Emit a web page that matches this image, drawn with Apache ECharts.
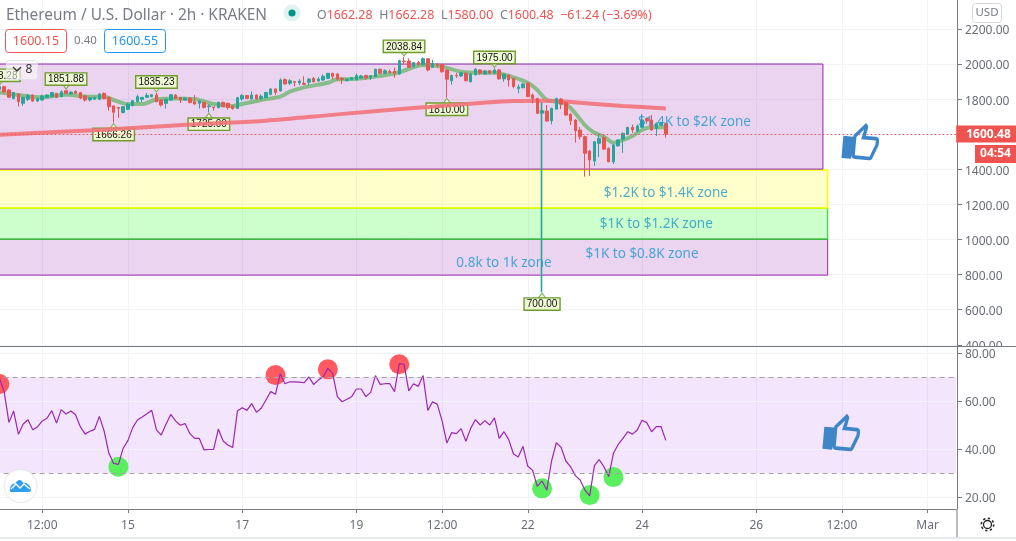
<!DOCTYPE html>
<html><head><meta charset="utf-8">
<style>html,body{margin:0;padding:0;background:#fff}#c{width:1016px;height:541px}</style>
<script src="https://cdn.jsdelivr.net/npm/echarts@6/dist/echarts.min.js"></script>
</head><body><div id="c"></div>
<script>
// Bars start at index 1 (index 0 is just off the left edge); 2-hour bars.
const barOpen=[1855,1871,1852,1804,1829,1776,1799,1823,1789,1795,1810,1814,1833,1814,1848,1829,1844,1837,1818,1795,1799,1799,1833,1810,1761,1752,
1723,1742,1763,1785,1799,1810,1814,1823,1795,1776,1795,1823,1808,1795,1806,1785,1776,1782,1757,1755,1751,1782,1776,1761,1747,
1801,1820,1801,1823,1804,1808,1827,1858,1846,1911,1890,1899,1892,1890,1896,1918,1903,1909,1918,1947,1943,1918,1905,1911,1911,
1920,1935,1922,1928,1970,1947,1958,1958,1943,2017,2017,1985,2008,1996,2030,1981,2000,1996,1966,1905,1935,1932,1947,1899,1939,1966,
1943,1962,1949,1966,1915,1937,1918,1861,1865,1890,1823,1804,1723,1732,1677,1743,1800,1782,1713,1681,1624,1586,1504,1447,1548,1580,1519,1443,1534,1572,1599,1639,1618,1639,1690,1681,1633,1652,1662.28];
const barClose=[1871,1840,1810,1837,1785,1810,1821,1789,1804,1818,1823,1837,1810,1842,1833,1840,1833,1806,1795,1808,1810,1829,1802,1757,1725,1748,
1757,1770,1791,1814,1810,1821,1825,1785,1766,1800,1825,1804,1795,1806,1780,1772,1789,1753,1761,1751,1782,1757,1753,1746,1808,
1820,1804,1823,1801,1816,1838,1858,1838,1909,1886,1905,1895,1903,1884,1914,1899,1914,1930,1947,1930,1914,1911,1914,1922,1934,
1932,1920,1933,1970,1947,1962,1951,1947,2019,2013,1981,2008,1996,2030,1966,2004,1992,1956,1913,1935,1932,1950,1905,1943,1970,1947,
1960,1947,1966,1915,1941,1909,1871,1869,1886,1814,1804,1719,1732,1675,1747,1804,1772,1709,1677,1620,1586,1491,1453,1557,1576,1515,1443,1538,1567,1605,1639,1624,1647,1681,1675,1624,1662,1662,1600.48];
const barLow=[1845,1837,1806,1798,1757,1761,1789,1784,1785,1791,1806,1810,1806,1810,1831,1825,1829,1800,1785,1787,1795,1793,1799,1734,1666.26,1692,
1719,1737,1759,1783,1782,1806,1810,1783,1757,1746,1791,1802,1778,1791,1776,1768,1746,1745,1725,1734,1748,1755,1740,1740,1745,
1790,1799,1797,1797,1795,1804,1821,1823,1843,1884,1880,1872,1880,1880,1878,1895,1899,1903,1914,1914,1905,1886,1901,1907,1905,
1915,1910,1909,1925,1943,1941,1945,1922,1941,1995,1977,1981,1992,1992,1958,1979,1979,1950,1810,1882,1920,1926,1901,1895,1935,1937,
1939,1943,1941,1912,1899,1871,1861,1833,1861,1812,1776,1715,700,1671,1656,1740,1743,1705,1652,1552,1570,1358,1362,1420,1470,1510,1440,1430,1528,1494,1595,1608,1610,1635,1660,1618,1590,1648,1580];
const barHigh=[1873.28,1875,1856,1841,1833,1814,1829,1827,1808,1825,1829,1841,1835,1850,1851.88,1844,1850,1841,1821,1812,1814,1833,1837,1814,1763,1755,
1761,1778,1795,1825,1812,1834,1829,1835.23,1799,1802,1829,1829,1810,1810,1810,1823,1791,1784,1770,1755,1785,1784,1780,1763,1812,
1830,1824,1844,1827,1827,1840,1860,1860,1918,1918,1914,1905,1914,1930,1920,1926,1926,1941,1949,1949,1949,1926,1916,1926,1945,
1938,1938,1937,1973,1973,1970,1968,1979,2024,2038.84,2032,2011,2017,2038,2034,2024,2004,2000,1968,1939,1949,1954,1952,1947,1977,1970,
1966,1966,1975,1970,1945,1941,1922,1884,1890,1894,1833,1808,1780,1766,1751,1808,1806,1785,1722,1685,1640,1592,1510,1560,1600,1600,1525,1545,1570,1609,1642,1655,1655,1714,1695,1710,1666,1672,1662.28];
const rsiValues=[69.5,63.9,51.1,55.8,46.1,50.4,52.2,48.0,49.2,51.7,52.8,56.0,50.8,56.4,54.6,55.8,54.3,49.3,46.2,47.4,48.2,53.6,47.5,38.2,34.0,33.6,40.3,43.5,48.9,52.1,53.3,54.7,56.1,48.0,45.8,50.3,54.4,51.7,49.9,50.6,46.5,44.4,44.4,39.6,39.8,39.8,48.3,43.3,41.7,40.6,55.8,57.2,56.1,58.9,55.3,57.0,60.4,63.9,62.8,71.4,67.2,68.0,68.0,67.9,67.6,70.1,66.9,68.7,70.0,73.6,71.5,61.8,59.7,60.7,61.8,65.0,65.0,61.8,63.6,70.6,66.9,67.2,67.2,63.9,75.6,75.3,64.2,67.2,66.1,70.6,56.1,59.7,58.6,51.7,42.5,46.8,46.4,48.5,43.2,48.6,52.2,50.0,51.8,50.0,53.0,44.4,47.2,43.9,37.9,36.7,41.1,32.8,31.2,24.4,26.7,22.9,35.0,42.6,40.7,35.0,32.6,28.9,27.1,22.9,20.5,33.1,35.6,32.6,28.5,38.2,41.9,44.4,47.2,46.2,47.9,52.0,51.0,47.2,49.3,49.3,43.6];
const fastIdx=[1,5,10,15,20,23,25,28,31,34,38,42,46,50,52,56,60,62,65,70,72,75,80,85,90,94,98,102,105,109,112,114,116,118,120,122,124,126,128,130,132,134,136,138,141];
const fastVal=[1838,1823,1810,1825,1814,1814,1795,1772,1772,1799,1804,1800,1772,1761,1772,1795,1814,1842,1867,1893,1913,1914,1928,1953,1994,1985,1956,1950,1950,1924,1893,1852,1795,1785,1772,1719,1652,1608,1586,1551,1567,1590,1624,1639,1639];
const slowIdx=[1,22,43,57,72,90,109,116,123,132,141];
const slowVal=[1597,1624,1658,1677,1713,1753,1789,1791,1779,1761,1747];
const highTagIdx=[1,15,34,86,105], highTagVal=[1873.28,1851.88,1835.23,2038.84,1975.00];
const lowTagIdx=[25,45,95,115], lowTagVal=[1666.26,1725.00,1810.00,700.00];
const overboughtIdx=[1,59,70,85], overboughtVal=[67.1,70.8,73.2,75.3];
const oversoldIdx=[26,115,125,130], oversoldVal=[32.6,23.6,20.8,28.3];
const zoneNames=['$1.4K to $2K zone','$1.2K to $1.4K zone','$1K to $1.2K zone','$1K to $0.8K zone','0.8k to 1k zone'];
const zoneIdx=[147,141,139,136,107], zonePrice=[1669,1264,1088,917,865];
const tickIdx=[10,28,52,76,94,112,136,160,178,196];
const tickNames=['12:00','15','17','19','12:00','22','24','26','12:00','Mar'];
const lastPrice=1600.48;

const BAR_COUNT=203;
const timeCats=Array.from({length:BAR_COUNT},(_,i)=>{const k=tickIdx.indexOf(i);return k>=0?tickNames[k]:'';});
const isTick=(i)=>tickIdx.indexOf(i)>=0;
const candles=barOpen.map((o,k)=>{const v=[k+1,o,barClose[k],barLow[k],barHigh[k]];return barLow[k]<1000?{value:v,itemStyle:{borderWidth:1.6}}:v;});
const rsiData=rsiValues.map((v,k)=>[k+1,v]);
const zip=(a,b)=>a.map((x,k)=>[x,b[k]]);

const FONT='"Noto Sans",sans-serif';
const GRID='#f0f3fa', AXIS='#787b86', RED='#ef5350', TEAL='#26a69a', BLUE='#2196f3';
const L=-5.36, W=961.56;
const thumb='path://M9 21h9c.83 0 1.54-.5 1.84-1.22l3.02-7.05c.09-.23.14-.47.14-.73v-2c0-1.1-.9-2-2-2h-6.31l.95-4.57.03-.32c0-.41-.17-.79-.44-1.06L14.17 1 7.58 7.59C7.22 7.95 7 8.45 7 9v10c0 1.1.9 2 2 2zM9 9l4.34-4.34L12 10h9v2l-3 7H9V9zM1 9h6v12H1z';
const cloud='path://M10 492 C9 486 13 484 15 485 C17 481 21 480 23 484 C26 483 31 486 31 490 C31 491 30 492 29 492 Z';

function catAxis(idx,extra){return Object.assign({type:'category',gridIndex:idx,data:timeCats,boundaryGap:false,axisLine:{show:false,onZero:false},axisTick:{show:false},axisLabel:{show:false},splitLine:{show:false}},extra||{});}
const tagLabel={show:true,color:'#111',fontSize:10,fontFamily:'"Liberation Sans",sans-serif',backgroundColor:'#eef8d2',borderColor:'#6f9b2f',borderWidth:1.4,padding:[1,2,0,2],lineHeight:10,formatter:p=>p.value[1].toFixed(2)};

const option={
 animation:false,backgroundColor:'#fff',
 textStyle:{fontFamily:FONT},
 grid:[
  {left:L,width:W,top:-6.2,height:351,outerBoundsMode:'none'},
  {left:L,width:W,top:353,height:144,outerBoundsMode:'none'},
  {left:L,width:W,top:347,height:162,outerBoundsMode:'none'}
 ],
 xAxis:[
  catAxis(0,{splitLine:{show:true,interval:isTick,lineStyle:{color:GRID,width:1}}}),
  catAxis(1),
  catAxis(2,{
    axisLine:{show:true,onZero:false,lineStyle:{color:AXIS,width:1}},
    axisTick:{show:true,interval:isTick,length:4,lineStyle:{color:AXIS}},
    axisLabel:{show:true,interval:isTick,color:'#6a6d78',fontSize:12,fontFamily:FONT,margin:11},
    splitLine:{show:true,interval:isTick,lineStyle:{color:GRID,width:1}}
  })
 ],
 yAxis:[
  {type:'value',gridIndex:0,position:'right',offset:0.8,min:400,max:2400,interval:200,scale:false,z:0,
   axisLine:{show:true,lineStyle:{color:AXIS,width:1}},axisTick:{show:true,length:5,lineStyle:{color:AXIS}},
   axisLabel:{color:'#6a6d78',fontSize:12,fontFamily:FONT,margin:8,verticalAlign:'top',lineHeight:4,formatter:v=>v>=2400?'':v.toFixed(2)},
   splitLine:{show:true,lineStyle:{color:GRID,width:1}}},
  {type:'value',gridIndex:1,position:'right',offset:0.8,min:20,max:80,interval:20,z:2,
   axisLine:{show:false},axisTick:{show:true,length:5,lineStyle:{color:AXIS}},
   axisLabel:{color:'#6a6d78',fontSize:12,fontFamily:FONT,margin:8,verticalAlign:'top',lineHeight:4,formatter:v=>v.toFixed(2)},
   splitLine:{show:true,lineStyle:{color:GRID,width:1}}},
  {type:'value',gridIndex:2,position:'right',offset:0.8,min:0,max:1,
   axisLine:{show:true,lineStyle:{color:AXIS,width:1}},axisTick:{show:false},axisLabel:{show:false},splitLine:{show:false}}
 ],
 series:[
  {type:'candlestick',name:'ETHUSD',xAxisIndex:0,yAxisIndex:0,z:4,barWidth:3,clip:true,data:candles,
   encode:{x:0,y:[1,2,3,4]},
   itemStyle:{color:TEAL,color0:RED,borderColor:TEAL,borderColor0:RED,borderWidth:1},
   markArea:{silent:true,z:1,data:[
    [{xAxis:0,yAxis:1002,itemStyle:{color:'rgba(156,39,176,.2)',borderColor:'#9c27b0',borderWidth:1}},{xAxis:175,yAxis:797}],
    [{xAxis:0,yAxis:1179,itemStyle:{color:'rgba(0,255,0,.2)',borderColor:'#00e600',borderWidth:1}},{xAxis:175,yAxis:1002}],
    [{xAxis:0,yAxis:1396,itemStyle:{color:'rgba(255,255,0,.2)',borderColor:'#ffff00',borderWidth:1.5}},{xAxis:175,yAxis:1179}],
    [{xAxis:0,yAxis:2000,itemStyle:{color:'rgba(156,39,176,.2)',borderColor:'#8e24aa',borderWidth:1}},{xAxis:174,yAxis:1401}]
   ]},
   markLine:{silent:true,symbol:'none',animation:false,
    lineStyle:{color:RED,type:[1.5,2.5],width:1.2},
    data:[{yAxis:lastPrice,label:{show:true,position:'end',distance:0,formatter:lastPrice.toFixed(2),color:'#fff',fontWeight:'bold',fontSize:12,fontFamily:FONT,backgroundColor:RED,padding:[3,8,2,10]}}]}
  },
  {type:'scatter',name:'High tags',xAxisIndex:0,yAxisIndex:0,z:2,clip:false,data:zip(highTagIdx,highTagVal),
   symbol:'triangle',symbolRotate:180,symbolSize:[9,6],symbolOffset:[0,-4],
   itemStyle:{color:'#eef8d2',borderColor:'#8aa85a',borderWidth:1,opacity:1},
   label:Object.assign({position:'top',distance:1,offset:[0,3]},tagLabel)},
  {type:'scatter',name:'Low tags',xAxisIndex:0,yAxisIndex:0,z:2,clip:false,data:zip(lowTagIdx,lowTagVal),
   symbol:'triangle',symbolSize:[9,6],symbolOffset:[0,4],
   itemStyle:{color:'#eef8d2',borderColor:'#8aa85a',borderWidth:1,opacity:1},
   label:Object.assign({position:'bottom',distance:1,offset:[0,-2]},tagLabel)},
  {type:'line',name:'Fast MA',xAxisIndex:0,yAxisIndex:0,z:3,smooth:0.3,showSymbol:false,data:zip(fastIdx,fastVal),
   lineStyle:{color:'#7dba80',width:4,opacity:.9}},
  {type:'line',name:'Slow MA',xAxisIndex:0,yAxisIndex:0,z:3,smooth:0.3,showSymbol:false,data:zip(slowIdx,slowVal),
   lineStyle:{color:'#f2737a',width:4,opacity:.9}},
  {type:'scatter',name:'Zone labels',xAxisIndex:0,yAxisIndex:0,z:6,symbolSize:0,clip:false,
   data:zoneIdx.map((x,k)=>({value:[x,zonePrice[k]],name:zoneNames[k]})),
   label:{show:true,position:'inside',formatter:p=>p.name,color:'#1e98cc',fontSize:13.5,fontFamily:FONT}},
  {type:'scatter',name:'Thumb up',xAxisIndex:0,yAxisIndex:0,z:6,clip:false,symbol:thumb,symbolSize:[36,37],symbolRotate:-5,data:[[182,1561]],itemStyle:{color:'#3f86c9',opacity:1}},
  {type:'scatter',name:'Overbought',xAxisIndex:1,yAxisIndex:1,z:2.5,clip:false,symbolSize:20,data:zip(overboughtIdx,overboughtVal),
   itemStyle:{color:'#ff5a5f',opacity:1}},
  {type:'scatter',name:'Oversold',xAxisIndex:1,yAxisIndex:1,z:2.5,clip:false,symbolSize:20,data:zip(oversoldIdx,oversoldVal),
   itemStyle:{color:'#59ef5f',opacity:1}},
  {type:'scatter',name:'Thumb up 2',xAxisIndex:1,yAxisIndex:1,z:6,clip:false,symbol:thumb,symbolSize:[36,37],symbolRotate:-5,data:[[178,47.1]],itemStyle:{color:'#3f86c9',opacity:1}},
  {type:'scatter',name:'Logo',xAxisIndex:1,yAxisIndex:1,z:70,clip:false,symbol:cloud,symbolSize:[21,12],symbolOffset:[2,0],data:[[5,24.6]],itemStyle:{color:'#2e9fef',opacity:1}},
  {type:'line',name:'RSI',xAxisIndex:1,yAxisIndex:1,z:3,clip:false,showSymbol:false,data:rsiData,
   lineStyle:{color:'#9c27b0',width:1.2},
   markArea:{silent:true,z:0,itemStyle:{color:'rgba(155,38,230,.12)'},data:[[{xAxis:0,yAxis:70},{xAxis:202,yAxis:30}]]},
   markLine:{silent:true,symbol:'none',label:{show:false},lineStyle:{color:'#a79fae',type:[5,4],width:1},data:[{yAxis:70},{yAxis:30}]}
  }
 ],
 graphic:[
  {type:'rect',z:1,shape:{x:960,y:347,width:56,height:6},style:{fill:'#fff'}},
  {type:'line',z:50,shape:{x1:0,y1:346.5,x2:1016,y2:346.5},style:{stroke:AXIS,lineWidth:1}},
  {type:'line',z:50,shape:{x1:0,y1:538,x2:1016,y2:538},style:{stroke:'#e6e8ef',lineWidth:2}},
  {type:'line',z:50,shape:{x1:957,y1:509,x2:957,y2:537},style:{stroke:AXIS,lineWidth:1}},
  {type:'text',z:60,x:6,y:8,style:{text:'Ethereum / U.S. Dollar · 2h · KRAKEN',fill:'#787b86',font:'15.4px '+FONT}},
  {type:'circle',z:60,shape:{cx:292,cy:13,r:8.5},style:{fill:'#e0f2f1'}},
  {type:'circle',z:61,shape:{cx:292,cy:13,r:3.6},style:{fill:'#009688'}},
  {type:'text',z:60,x:317,y:9,style:{
    rich:{g:{fill:'#787b86',font:'12.4px '+FONT},r:{fill:RED,font:'12.4px '+FONT}},
    text:'{g|O}{r|1662.28}  {g|H}{r|1662.28}  {g|L}{r|1580.00}  {g|C}{r|1600.48}  {r|−61.24 (−3.69%)}'}},
  {type:'rect',z:60,shape:{x:5.5,y:29.5,width:61,height:23,r:3},style:{fill:'#fff',stroke:RED,lineWidth:1}},
  {type:'text',z:61,x:36,y:41,style:{text:'1600.15',fill:RED,font:'12.5px '+FONT,align:'center',verticalAlign:'middle'}},
  {type:'text',z:61,x:85.5,y:41,style:{text:'0.40',fill:'#787b86',font:'11.5px '+FONT,align:'center',verticalAlign:'middle'}},
  {type:'rect',z:60,shape:{x:104.5,y:29.5,width:61,height:23,r:3},style:{fill:'#fff',stroke:BLUE,lineWidth:1}},
  {type:'text',z:61,x:135,y:41,style:{text:'1600.55',fill:BLUE,font:'12.5px '+FONT,align:'center',verticalAlign:'middle'}},
  {type:'rect',z:60,shape:{x:6.5,y:60.5,width:31,height:19,r:3},style:{fill:'rgba(255,255,255,.55)',stroke:'#e0e3eb',lineWidth:1}},
  {type:'polyline',z:61,shape:{points:[[13,67],[17,71],[21,67]]},style:{stroke:'#333',fill:'none',lineWidth:1.3}},
  {type:'text',z:61,x:29,y:70,style:{text:'8',fill:'#333',font:'12px '+FONT,align:'center',verticalAlign:'middle'}},
  {type:'rect',z:60,shape:{x:972.5,y:3.5,width:29,height:19,r:3},style:{fill:'#fff',stroke:'#d6d8e0',lineWidth:1}},
  {type:'text',z:61,x:987,y:13,style:{text:'USD',fill:'#787b86',font:'11.5px '+FONT,align:'center',verticalAlign:'middle'}},
  {type:'rect',z:60,shape:{x:975,y:145,width:41,height:18},style:{fill:RED}},
  {type:'text',z:61,x:995.5,y:154,style:{text:'04:54',fill:'#fff',font:'bold 12px '+FONT,align:'center',verticalAlign:'middle'}},
  {type:'circle',z:60,shape:{cx:20.5,cy:486,r:16.5},style:{fill:'#fff',stroke:'#e4e6ec',lineWidth:1}},
  {type:'polyline',z:75,shape:{points:[[11,489],[16,484],[20,488],[24,484],[30,489]]},style:{stroke:'#fff',fill:'none',lineWidth:1.4}},
  {type:'circle',z:60,shape:{cx:987.5,cy:524.5,r:4},style:{fill:'#fff',stroke:'#222',lineWidth:1.3}},
  {type:'circle',z:59,shape:{cx:987.5,cy:524.5,r:6.2},style:{fill:'#fff',stroke:'#222',lineWidth:1.6,lineDash:[2.2,2.6]}}
 ]
};
const chart=echarts.init(document.getElementById('c'),null,{renderer:'canvas',width:1016,height:541});
chart.setOption(option);
</script></body></html>
